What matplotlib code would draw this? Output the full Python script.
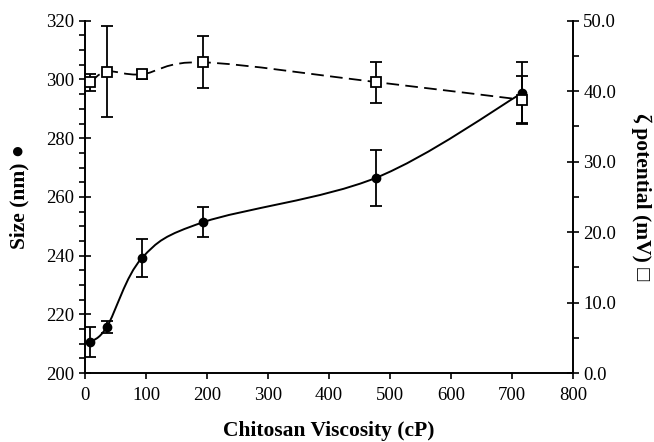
import numpy as np
import matplotlib
matplotlib.use("Agg")
import matplotlib.pyplot as plt
from matplotlib.path import Path
from matplotlib.patches import PathPatch
from matplotlib.ticker import MultipleLocator, FormatStrFormatter

plt.rcParams['font.family'] = ['Liberation Serif', 'DejaVu Sans']

viscosity = [8, 36, 93, 194, 477, 716]
size_nm = [210.5, 215.8, 239.1, 251.4, 266.5, 295.3]
size_err = [5.2, 2.0, 6.5, 5.1, 9.5, 10.5]
zeta_mv = [41.25, 42.8, 42.4, 44.1, 41.3, 38.8]
zeta_err = [1.2, 6.4, 0.6, 3.7, 2.9, 3.35]


def smooth_path(ax, xs, ys, **kw):
    # excel-like smoothed line: catmull-rom turned into bezier segments,
    # computed in display space so the curve shape follows the screen
    pts = ax.transData.transform(np.column_stack([xs, ys]))
    n = len(pts)
    verts = [pts[0]]
    codes = [Path.MOVETO]
    for i in range(n - 1):
        p0 = pts[i - 1] if i > 0 else pts[i]
        p1, p2 = pts[i], pts[i + 1]
        p3 = pts[i + 2] if i + 2 < n else pts[i + 1]
        c1 = p1 + (p2 - p0) / 6.0
        c2 = p2 - (p3 - p1) / 6.0
        verts += [c1, c2, p2]
        codes += [Path.CURVE4] * 3
    verts = ax.transData.inverted().transform(np.array(verts))
    patch = PathPatch(Path(verts, codes), fill=False, **kw)
    ax.add_patch(patch)


fig = plt.figure(figsize=(6.54, 4.42), dpi=100)
ax = fig.add_axes([0.130, 0.156, 0.746, 0.797])
ax2 = ax.twinx()

ax.set_xlim(0, 800)
ax.set_ylim(200, 320)
ax2.set_ylim(0, 50)

smooth_path(ax, viscosity, size_nm, color='black', lw=1.4, zorder=2)
ax.errorbar(viscosity, size_nm, yerr=size_err, fmt='o', color='black',
            ms=6, capsize=4.5, elinewidth=1.3, capthick=1.3, zorder=3)

smooth_path(ax2, viscosity, zeta_mv, color='black', lw=1.3,
            linestyle=(0, (7, 3.5)), zorder=2)
ax2.errorbar(viscosity, zeta_mv, yerr=zeta_err, fmt='s', color='black',
             mfc='white', mec='black', mew=1.3, ms=7, capsize=4.5,
             elinewidth=1.3, capthick=1.3, zorder=3)

for a in (ax, ax2):
    a.spines['top'].set_visible(False)
    for s in a.spines.values():
        s.set_linewidth(1.2)

ax.xaxis.set_major_locator(MultipleLocator(100))
ax.yaxis.set_major_locator(MultipleLocator(20))
ax.yaxis.set_minor_locator(MultipleLocator(5))
ax2.yaxis.set_major_locator(MultipleLocator(10))
ax2.yaxis.set_minor_locator(MultipleLocator(5))
ax2.yaxis.set_major_formatter(FormatStrFormatter('%.1f'))

ax.tick_params(axis='x', direction='out', length=4, width=1.2, labelsize=13.5, pad=6)
ax.tick_params(axis='y', which='major', direction='inout', length=8, width=1.2, labelsize=13.5)
ax.tick_params(axis='y', which='minor', direction='out', length=4, width=1.2)
ax2.tick_params(axis='y', which='major', direction='inout', length=8, width=1.2, labelsize=13.5)
ax2.tick_params(axis='y', which='minor', direction='out', length=4, width=1.2)

ax.set_xlabel('Chitosan Viscosity (cP)', fontsize=15.5, fontweight='bold', labelpad=12)
ax.set_ylabel('Size (nm) \u25CF', fontsize=15.5, fontweight='bold', labelpad=12)
ax2.set_ylabel('\u03B6 potential (mV) \u25A1', fontsize=15.5, fontweight='bold',
               rotation=270, labelpad=25)

fig.savefig('out.png', dpi=100)
